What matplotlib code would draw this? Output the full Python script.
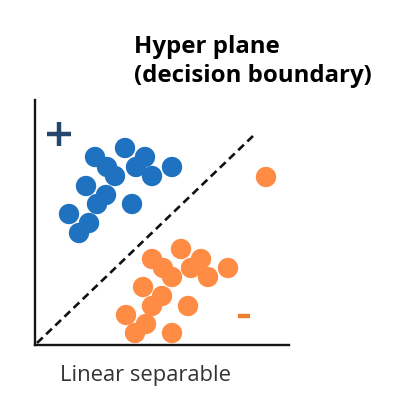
import matplotlib
matplotlib.use("Agg")
import matplotlib.pyplot as plt

# point positions (axis units, origin at the corner of the L axes)
blue_x = [90, 60, 110, 72, 101, 137, 80, 117, 51, 71, 62, 97, 34, 54, 44]
blue_y = [197, 188, 188, 178, 178, 178, 169, 169, 159, 150, 141, 141, 131, 122, 112]
orange_x = [231, 146, 117, 166, 128, 156, 193, 137, 173, 108, 127, 117, 153, 91, 111, 100, 137]
orange_y = [168, 96, 86, 86, 77, 77, 77, 68, 68, 58, 49, 39, 39, 30, 21, 12, 12]
boundary_x = [2, 218]
boundary_y = [2, 209]
plus_pos = (24, 211)
minus_pos = (209, 29)

title = "Hyper plane\n(decision boundary)"
xlabel = "Linear separable"

BLUE = "#1f72bf"
ORANGE = "#ff8c45"

fig = plt.figure(figsize=(3.94, 3.98), dpi=100)
ax = fig.add_axes([35 / 394, 53 / 398, 254 / 394, 245 / 398])
ax.set_xlim(0, 254)
ax.set_ylim(0, 245)
for side in ["top", "right"]:
    ax.spines[side].set_visible(False)
for side in ["left", "bottom"]:
    ax.spines[side].set_linewidth(1.7)
    ax.spines[side].set_color("#151515")
ax.set_xticks([])
ax.set_yticks([])

ax.plot(boundary_x, boundary_y, color="#111111", lw=1.9, dashes=(3.0, 1.8))
ax.scatter(blue_x, blue_y, s=215, color=BLUE, edgecolors="none", clip_on=False, zorder=3)
ax.scatter(orange_x, orange_y, s=215, color=ORANGE, edgecolors="none", clip_on=False, zorder=3)

ax.plot(*plus_pos, marker="+", markersize=17, mew=3.2, color="#24476e")
ax.plot(*minus_pos, marker="_", markersize=9, mew=3.2, color="#ec7f2e")

fig.text(134 / 394, 1 - 35 / 398, title, ha="left", va="top", fontsize=17.3,
         fontweight="bold", family="Open Sans", linespacing=1.3, color="black")
fig.text(60 / 394, 1 - 381 / 398, xlabel, ha="left", va="baseline", fontsize=15.8,
         family="Open Sans", color="#333333")

fig.savefig("out.png", dpi=100, facecolor="white")
